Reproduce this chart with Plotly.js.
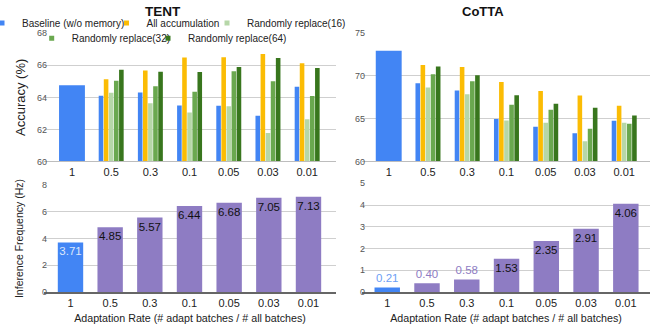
<!DOCTYPE html>
<html><head><meta charset="utf-8">
<script src="https://cdn.plot.ly/plotly-3.0.1.min.js"></script>
<style>html,body{margin:0;padding:0;background:#fff}#chart{width:655px;height:330px}</style>
</head><body><div id="chart"></div>
<script>
// ---- data ----
const categories = ['1', '0.5', '0.3', '0.1', '0.05', '0.03', '0.01'];
const seriesNames = ['Baseline (w/o memory)', 'All accumulation', 'Randomly replace(16)', 'Randomly replace(32)', 'Randomly replace(64)'];

const tentBaseline = [64.75, 64.10, 64.31, 63.50, 63.48, 62.85, 64.67];
const tentAll      = [null, 65.13, 65.67, 66.48, 66.50, 66.71, 66.13];
const tentR16      = [null, 64.29, 63.63, 63.06, 63.44, 61.77, 62.63];
const tentR32      = [null, 65.04, 64.69, 64.35, 65.63, 65.00, 64.08];
const tentR64      = [null, 65.73, 65.60, 65.58, 65.90, 66.46, 65.83];

const cottaBaseline = [72.95, 69.15, 68.29, 64.96, 64.07, 63.29, 64.77];
const cottaAll      = [null, 71.28, 71.05, 69.31, 68.25, 67.72, 66.53];
const cottaR16      = [null, 68.64, 67.87, 64.80, 64.52, 62.36, 64.52];
const cottaR32      = [null, 70.19, 69.38, 66.63, 66.05, 63.82, 64.40];
const cottaR64      = [null, 71.12, 70.08, 67.76, 66.75, 66.28, 65.38];

const tentFreq  = [3.71, 4.85, 5.57, 6.44, 6.68, 7.05, 7.13];
const cottaFreq = [0.21, 0.40, 0.58, 1.53, 2.35, 2.91, 4.06];

// ---- styles ----
const FONT = 'Arial, "Liberation Sans", sans-serif';
const seriesColors = ['#4285F4', '#FBBC04', '#B6D7A8', '#6AA84F', '#38761D'];
const PURPLE = '#8E7CC3';

function accTraces(xa, ya, seriesList) {
  const traces = [];
  traces.push({type: 'bar', x: [categories[0]], y: [seriesList[0][0]], xaxis: xa, yaxis: ya,
    width: 0.66, offset: -0.33, marker: {color: seriesColors[0]}, showlegend: false, name: seriesNames[0]});
  seriesList.forEach((vals, i) => {
    traces.push({type: 'bar', x: categories.slice(1), y: vals.slice(1), xaxis: xa, yaxis: ya,
      marker: {color: seriesColors[i]}, showlegend: false, name: seriesNames[i]});
  });
  return traces;
}

function freqTrace(xa, ya, vals, outsideCount, outsideColors, firstInsideColor) {
  const colors = vals.map((v, i) => i === 0 ? seriesColors[0] : PURPLE);
  const pos = vals.map((v, i) => i < outsideCount ? 'outside' : 'inside');
  const tcol = vals.map((v, i) => {
    if (i < outsideCount) return outsideColors[i];
    if (i === 0) return firstInsideColor;
    return '#111';
  });
  return {type: 'bar', x: categories, y: vals, xaxis: xa, yaxis: ya, width: 0.64,
    marker: {color: colors}, text: vals.map(v => v.toFixed(2)), textposition: pos,
    insidetextanchor: 'end', textangle: 0, constraintext: 'none', cliponaxis: false,
    textfont: {family: FONT, size: 11.5, color: tcol}, showlegend: false, name: 'Inference Frequency'};
}

const traces = [
  ...accTraces('x', 'y', [tentBaseline, tentAll, tentR16, tentR32, tentR64]),
  ...accTraces('x2', 'y2', [cottaBaseline, cottaAll, cottaR16, cottaR32, cottaR64]),
  freqTrace('x3', 'y3', tentFreq, 0, [], '#dce7fb'),
  freqTrace('x4', 'y4', cottaFreq, 3, ['#6d9ef5', PURPLE, PURPLE], '#111'),
];

// legend proxies (one legend per entry so each can be placed like the original)
const legendIds = ['legend', 'legend2', 'legend3', 'legend4', 'legend5'];
seriesNames.forEach((n, i) => {
  traces.push({type: 'scatter', mode: 'markers', x: [null], y: [null], xaxis: 'x', yaxis: 'y',
    name: n, legend: legendIds[i], marker: {symbol: 'square', size: 5, color: seriesColors[i]}, hoverinfo: 'skip'});
});

const legendPos = [[-0.1023, 1.0386], [0.1031, 1.0386], [0.269, 1.0386], [-0.0203, 0.9795], [0.1716, 0.9795]];
const legendBase = {orientation: 'h', xanchor: 'left', yanchor: 'middle', bgcolor: 'rgba(0,0,0,0)',
  font: {family: FONT, size: 10, color: '#222'}, borderwidth: 0};

const tickX = {family: FONT, size: 11, color: '#222'};
const tickY = {family: FONT, size: 9, color: '#555'};
const xTitle = 'Adaptation Rate (# adapt batches / # all batches)';

const baseX = {type: 'category', categoryorder: 'array', categoryarray: categories, showgrid: false,
  ticks: '', tickfont: tickX, showline: true, zeroline: false, fixedrange: true};
const baseY = {showgrid: true, gridcolor: '#cfcfcf', gridwidth: 1, zeroline: false, ticks: '',
  tickfont: tickY, showline: false, fixedrange: true, ticklabelstandoff: -4};

const layout = {
  width: 655, height: 330,
  margin: {l: 44, r: 5, t: 33, b: 38, autoexpand: false},
  paper_bgcolor: '#fff', plot_bgcolor: '#fff',
  font: {family: FONT, color: '#222'},
  barmode: 'group', bargap: 0.35, bargroupgap: 0.1,
  showlegend: true,
  xaxis:  Object.assign({}, baseX, {domain: [0, 0.4818], anchor: 'y', range: [-0.714, 6.735], linecolor: '#bdbdbd', linewidth: 1}),
  yaxis:  Object.assign({}, baseY, {domain: [0.504, 0.999], anchor: 'x', range: [60, 68], dtick: 2,
           title: {text: 'Accuracy (%)', font: {family: FONT, size: 13, color: '#222'}, standoff: 8}}),
  xaxis2: Object.assign({}, baseX, {domain: [0.5248, 1], anchor: 'y2', range: [-0.680, 6.657], linecolor: '#bdbdbd', linewidth: 1}),
  yaxis2: Object.assign({}, baseY, {domain: [0.504, 0.999], anchor: 'x2', range: [60, 75], dtick: 5}),
  xaxis3: Object.assign({}, baseX, {domain: [0, 0.4818], anchor: 'y3', range: [-0.668, 6.693], linecolor: '#666', linewidth: 1.5,
           title: {text: xTitle, font: {family: FONT, size: 10.7, color: '#222'}, standoff: 7}}),
  yaxis3: Object.assign({}, baseY, {domain: [0, 0.413], anchor: 'x3', range: [0, 8], dtick: 2,
           title: {text: 'Inference Frequency (Hz)', font: {family: FONT, size: 10.5, color: '#222'}, standoff: 16}}),
  xaxis4: Object.assign({}, baseX, {domain: [0.5248, 1], anchor: 'y4', range: [-0.634, 6.608], linecolor: '#666', linewidth: 1.5,
           title: {text: xTitle, font: {family: FONT, size: 10.7, color: '#222'}, standoff: 7}}),
  yaxis4: Object.assign({}, baseY, {domain: [0, 0.4197], anchor: 'x4', range: [0, 5], dtick: 1}),
  annotations: [
    {text: '<b>TENT</b>', xref: 'paper', yref: 'paper', x: 0.197, y: 1.083, xanchor: 'center', yanchor: 'middle',
     showarrow: false, font: {family: FONT, size: 13.5, color: '#111'}},
    {text: '<b>CoTTA</b>', xref: 'paper', yref: 'paper', x: 0.7236, y: 1.083, xanchor: 'center', yanchor: 'middle',
     showarrow: false, font: {family: FONT, size: 13, color: '#111'}},
  ],
};
legendIds.forEach((id, i) => {
  layout[id] = Object.assign({}, legendBase, {x: legendPos[i][0], y: legendPos[i][1]});
});

Plotly.newPlot('chart', traces, layout, {displayModeBar: false, staticPlot: true});
</script>
</body></html>
